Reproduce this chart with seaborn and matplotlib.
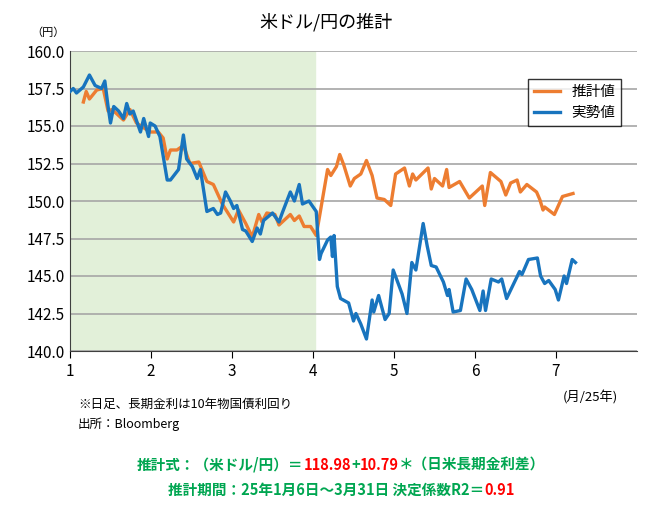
import matplotlib
matplotlib.use("Agg")
import matplotlib.pyplot as plt
import seaborn as sns
import pandas as pd

plt.rcParams["font.family"] = ["Noto Sans CJK JP"]

# month position (1 = Jan start) and yen values
actual_x = [1.00, 1.04, 1.08, 1.165, 1.24, 1.31, 1.39, 1.43, 1.47, 1.50, 1.54, 1.60, 1.66, 1.70, 1.74, 1.78,
            1.87, 1.91, 1.97, 1.99, 2.05, 2.11, 2.20, 2.24, 2.34, 2.40, 2.44, 2.51, 2.57, 2.61, 2.69, 2.77,
            2.82, 2.86, 2.92, 2.98, 3.02, 3.06, 3.13, 3.17, 3.25, 3.31, 3.35, 3.39, 3.50, 3.58, 3.62, 3.72,
            3.77, 3.83, 3.87, 3.95, 4.04, 4.06, 4.08, 4.10, 4.18, 4.22, 4.24, 4.26, 4.30, 4.34, 4.44, 4.50,
            4.53, 4.59, 4.66, 4.73, 4.75, 4.81, 4.89, 4.94, 4.99, 5.10, 5.16, 5.22, 5.27, 5.36, 5.41, 5.46,
            5.52, 5.61, 5.66, 5.68, 5.73, 5.82, 5.89, 5.96, 6.06, 6.10, 6.13, 6.20, 6.29, 6.33, 6.39, 6.47,
            6.55, 6.58, 6.66, 6.77, 6.81, 6.86, 6.91, 6.99, 7.03, 7.10, 7.13, 7.20, 7.24]
actual_y = [157.3, 157.5, 157.2, 157.6, 158.4, 157.7, 157.5, 158.0, 156.3, 155.2, 156.3, 156.0, 155.5, 156.5, 155.8, 156.0,
            154.6, 155.5, 154.3, 155.2, 155.0, 154.3, 151.4, 151.4, 152.1, 154.4, 152.8, 152.3, 151.5, 152.1, 149.3, 149.5,
            149.1, 149.2, 150.6, 150.0, 149.5, 149.7, 148.1, 148.0, 147.3, 148.2, 147.8, 148.7, 149.2, 148.6, 149.2, 150.6,
            150.0, 151.1, 149.8, 150.0, 149.3, 147.7, 146.1, 146.5, 147.4, 147.6, 146.3, 147.7, 144.3, 143.5, 143.2, 142.0,
            142.5, 141.8, 140.8, 143.4, 142.6, 143.7, 142.1, 142.5, 145.4, 143.8, 142.5, 145.9, 145.4, 148.5, 147.0, 145.7,
            145.6, 144.6, 143.7, 144.1, 142.6, 142.7, 144.8, 144.1, 142.7, 144.0, 142.7, 144.8, 144.6, 144.8, 143.5, 144.4,
            145.3, 145.1, 146.1, 146.2, 145.0, 144.5, 144.7, 144.1, 143.4, 145.0, 144.5, 146.1, 145.9]
est_x = [1.165, 1.20, 1.24, 1.33, 1.41, 1.47, 1.52, 1.66, 1.74, 1.82, 1.99, 2.09, 2.15, 2.20, 2.24, 2.32,
         2.40, 2.48, 2.59, 2.69, 2.77, 2.88, 3.02, 3.08, 3.17, 3.25, 3.33, 3.37, 3.43, 3.53, 3.58, 3.72,
         3.77, 3.83, 3.89, 3.97, 4.04, 4.18, 4.22, 4.29, 4.33, 4.38, 4.46, 4.51, 4.59, 4.66, 4.73, 4.79,
         4.88, 4.96, 5.02, 5.13, 5.19, 5.23, 5.27, 5.42, 5.46, 5.50, 5.60, 5.65, 5.68, 5.81, 5.93, 6.09,
         6.12, 6.19, 6.32, 6.38, 6.44, 6.52, 6.56, 6.64, 6.76, 6.80, 6.84, 6.86, 6.98, 7.03, 7.08, 7.21]
est_y = [156.6, 157.3, 156.8, 157.4, 157.5, 156.0, 156.1, 155.4, 156.1, 155.2, 154.6, 154.6, 154.2, 152.8, 153.4, 153.4,
         153.7, 152.5, 152.6, 151.3, 151.1, 149.8, 148.6, 149.4, 148.5, 147.6, 149.1, 148.6, 149.2, 149.1, 148.4, 149.1,
         148.7, 149.0, 148.3, 148.3, 147.7, 152.1, 151.7, 152.3, 153.1, 152.4, 151.0, 151.5, 151.8, 152.7, 151.7, 150.2,
         150.1, 149.7, 151.8, 152.2, 151.0, 151.8, 151.4, 152.2, 150.8, 151.5, 151.0, 152.1, 150.9, 151.3, 150.2, 151.0,
         149.7, 151.9, 151.3, 150.4, 151.2, 151.4, 150.6, 151.1, 150.6, 150.1, 149.4, 149.6, 149.1, 149.7, 150.3, 150.5]
x_ticks = [1, 2, 3, 4, 5, 6, 7]
y_ticks = [140.0, 142.5, 145.0, 147.5, 150.0, 152.5, 155.0, 157.5, 160.0]

ORANGE = "#ED7D31"
BLUE = "#1874BE"
GREEN = "#00A651"
RED = "#FF0000"

fig = plt.figure(figsize=(6.52, 5.15), dpi=100)
ax = fig.add_axes([70 / 652, 1 - 351 / 515, 567 / 652, 300 / 515])

ax.axvspan(1, 4.03, color="#E2F0D9", zorder=0)
df_e = pd.DataFrame({"x": est_x, "y": est_y})
df_a = pd.DataFrame({"x": actual_x, "y": actual_y})
sns.lineplot(data=df_e, x="x", y="y", ax=ax, color=ORANGE, lw=2.4, label="推計値", sort=False, zorder=3)
sns.lineplot(data=df_a, x="x", y="y", ax=ax, color=BLUE, lw=2.4, label="実勢値", sort=False, zorder=4)

ax.set_xlim(1, 8)
ax.set_ylim(140, 160)
ax.set_xticks(x_ticks)
ax.set_yticks(y_ticks)
ax.set_yticklabels([f"{v:.1f}" for v in y_ticks], fontsize=11)
ax.set_xticklabels([str(v) for v in x_ticks], fontsize=11)
ax.tick_params(axis="y", length=0, pad=4)
ax.tick_params(axis="x", length=5, direction="out")
ax.grid(axis="y", color="#A6A6A6", lw=1.2)
ax.set_axisbelow(True)
ax.set_xlabel("")
ax.set_ylabel("")
for s in ["top", "right"]:
    ax.spines[s].set_visible(False)
ax.spines["left"].set_color("#404040")
ax.spines["bottom"].set_color("#404040")

leg = ax.legend(loc="upper right", bbox_to_anchor=(0.985, 0.93), fontsize=10.5, frameon=True,
                fancybox=False, edgecolor="black", handlelength=1.8)
leg.get_frame().set_linewidth(1.0)

fig.text(326 / 652, 1 - 22 / 515, "米ドル/円の推計", ha="center", va="center", fontsize=13)
fig.text(48 / 652, 1 - 33 / 515, "（円）", ha="center", va="center", fontsize=8)
fig.text(590 / 652, 1 - 398 / 515, "(月/25年)", ha="center", va="center", fontsize=9.5)
fig.text(78 / 652, 1 - 404 / 515, "※日足、長期金利は10年物国債利回り", ha="left", va="center", fontsize=9)
fig.text(78 / 652, 1 - 424 / 515, "出所：Bloomberg", ha="left", va="center", fontsize=9)


# formula lines: green text with red numbers, each piece placed after the previous
def chain(x0, y, parts):
    prev = None
    for txt, col in parts:
        if prev is None:
            prev = fig.text(x0 / 652, 1 - y / 515, txt, color=col, fontsize=10.5,
                            fontweight="bold", ha="left", va="center")
        else:
            prev = ax.annotate(txt, xy=(1, 0.5), xycoords=prev, color=col, fontsize=10.5,
                               fontweight="bold", ha="left", va="center", annotation_clip=False)


chain(137, 465, [("推計式：（米ドル/円）＝", GREEN), ("118.98", RED), ("+", GREEN), ("10.79", RED),
                 ("＊（日米長期金利差）", GREEN)])
chain(168, 490, [("推計期間：25年1月6日～3月31日 決定係数R2＝", GREEN), ("0.91", RED)])

fig.savefig("out.png", dpi=100)
